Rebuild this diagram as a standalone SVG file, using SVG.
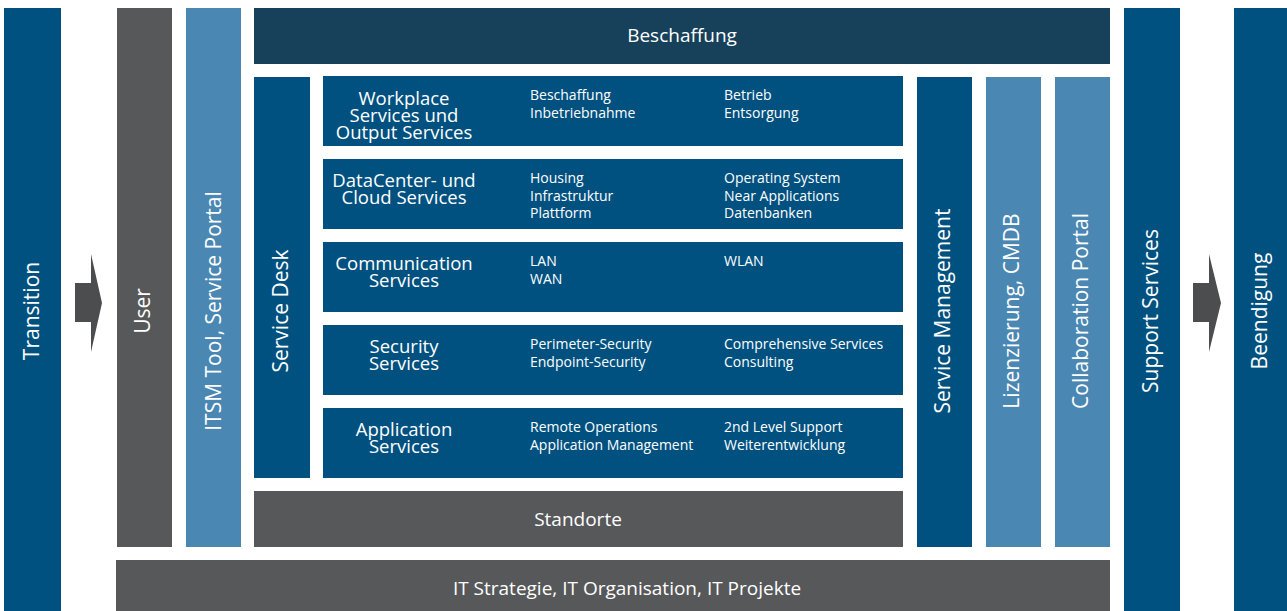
<svg xmlns="http://www.w3.org/2000/svg" width="1287" height="611" viewBox="0 0 1287 611">
<style>
.db{fill:#005180}
.gr{fill:#57585a}
.lb{fill:#4a87b2}
.nv{fill:#17415a}
.ar{fill:#4c4d4e}
text{font-family:"Open Sans","Noto Sans","Liberation Sans",sans-serif;fill:#ffffff}
.v{font-size:21px;text-anchor:middle}
.h{font-size:19px;text-anchor:middle}
.t{font-size:18.5px;text-anchor:middle}
.i{font-size:14px}
</style>
<rect width="1287" height="611" fill="#ffffff"/>
<g id="transition"><rect class="db" x="4" y="8" width="57" height="603"/><text class="v" transform="translate(39,311) rotate(-90)">Transition</text></g>
<g id="user"><rect class="gr" x="117" y="8" width="55" height="539"/><text class="v" transform="translate(150,311) rotate(-90)">User</text></g>
<g id="itsm"><rect class="lb" x="186" y="8" width="55" height="539"/><text class="v" transform="translate(221,311) rotate(-90)">ITSM Tool, Service Portal</text></g>
<g id="beschaffung"><rect class="nv" x="254" y="8" width="856" height="56"/><text class="h" x="682" y="42">Beschaffung</text></g>
<g id="servicedesk"><rect class="db" x="254" y="77" width="56" height="401"/><text class="v" transform="translate(288,311) rotate(-90)">Service Desk</text></g>
<g id="workplace"><rect class="db" x="323" y="76" width="580" height="70"/>
<text class="t" y="105"><tspan x="404">Workplace</tspan><tspan x="404" dy="17">Services und</tspan><tspan x="404" dy="17">Output Services</tspan></text>
<text class="i" y="100"><tspan x="530">Beschaffung</tspan><tspan x="530" dy="17.5">Inbetriebnahme</tspan></text>
<text class="i" y="100"><tspan x="724">Betrieb</tspan><tspan x="724" dy="17.5">Entsorgung</tspan></text></g>
<g id="datacenter"><rect class="db" x="323" y="159" width="580" height="70"/>
<text class="t" y="187"><tspan x="404">DataCenter- und</tspan><tspan x="404" dy="17">Cloud Services</tspan></text>
<text class="i" y="183"><tspan x="530">Housing</tspan><tspan x="530" dy="17.5">Infrastruktur</tspan><tspan x="530" dy="17.5">Plattform</tspan></text>
<text class="i" y="183"><tspan x="724">Operating System</tspan><tspan x="724" dy="17.5">Near Applications</tspan><tspan x="724" dy="17.5">Datenbanken</tspan></text></g>
<g id="communication"><rect class="db" x="323" y="242" width="580" height="70"/>
<text class="t" y="270"><tspan x="404">Communication</tspan><tspan x="404" dy="17">Services</tspan></text>
<text class="i" y="266"><tspan x="530">LAN</tspan><tspan x="530" dy="17.5">WAN</tspan></text>
<text class="i" x="724" y="266">WLAN</text></g>
<g id="security"><rect class="db" x="323" y="325" width="580" height="70"/>
<text class="t" y="353"><tspan x="404">Security</tspan><tspan x="404" dy="17">Services</tspan></text>
<text class="i" y="349"><tspan x="530">Perimeter-Security</tspan><tspan x="530" dy="17.5">Endpoint-Security</tspan></text>
<text class="i" y="349"><tspan x="724">Comprehensive Services</tspan><tspan x="724" dy="17.5">Consulting</tspan></text></g>
<g id="application"><rect class="db" x="323" y="408" width="580" height="70"/>
<text class="t" y="436"><tspan x="404">Application</tspan><tspan x="404" dy="17">Services</tspan></text>
<text class="i" y="432"><tspan x="530">Remote Operations</tspan><tspan x="530" dy="17.5">Application Management</tspan></text>
<text class="i" y="432"><tspan x="724">2nd Level Support</tspan><tspan x="724" dy="17.5">Weiterentwicklung</tspan></text></g>
<g id="standorte"><rect class="gr" x="254" y="491" width="649" height="56"/><text class="h" x="578" y="526">Standorte</text></g>
<g id="servicemanagement"><rect class="db" x="917" y="77" width="55" height="470"/><text class="v" transform="translate(950,311) rotate(-90)">Service Management</text></g>
<g id="lizenzierung"><rect class="lb" x="986" y="77" width="55" height="470"/><text class="v" transform="translate(1019,311) rotate(-90)">Lizenzierung, CMDB</text></g>
<g id="collaboration"><rect class="lb" x="1055" y="77" width="55" height="470"/><text class="v" transform="translate(1088,311) rotate(-90)">Collaboration Portal</text></g>
<g id="itstrategie"><rect class="gr" x="116" y="560" width="994" height="51"/><text class="h" x="627" y="595">IT Strategie, IT Organisation, IT Projekte</text></g>
<g id="support"><rect class="db" x="1124" y="8" width="56" height="603"/><text class="v" transform="translate(1158,311) rotate(-90)">Support Services</text></g>
<g id="beendigung"><rect class="db" x="1234" y="8" width="53" height="603"/><text class="v" transform="translate(1267,311) rotate(-90)">Beendigung</text></g>
<g id="connectors">
<polygon class="ar" points="75,283 91,283 91,254 102,303 91,352 91,322 75,322"/>
<polygon class="ar" points="1193,283 1209,283 1209,254 1221,303 1209,352 1209,322 1193,322"/>
</g>
</svg>
